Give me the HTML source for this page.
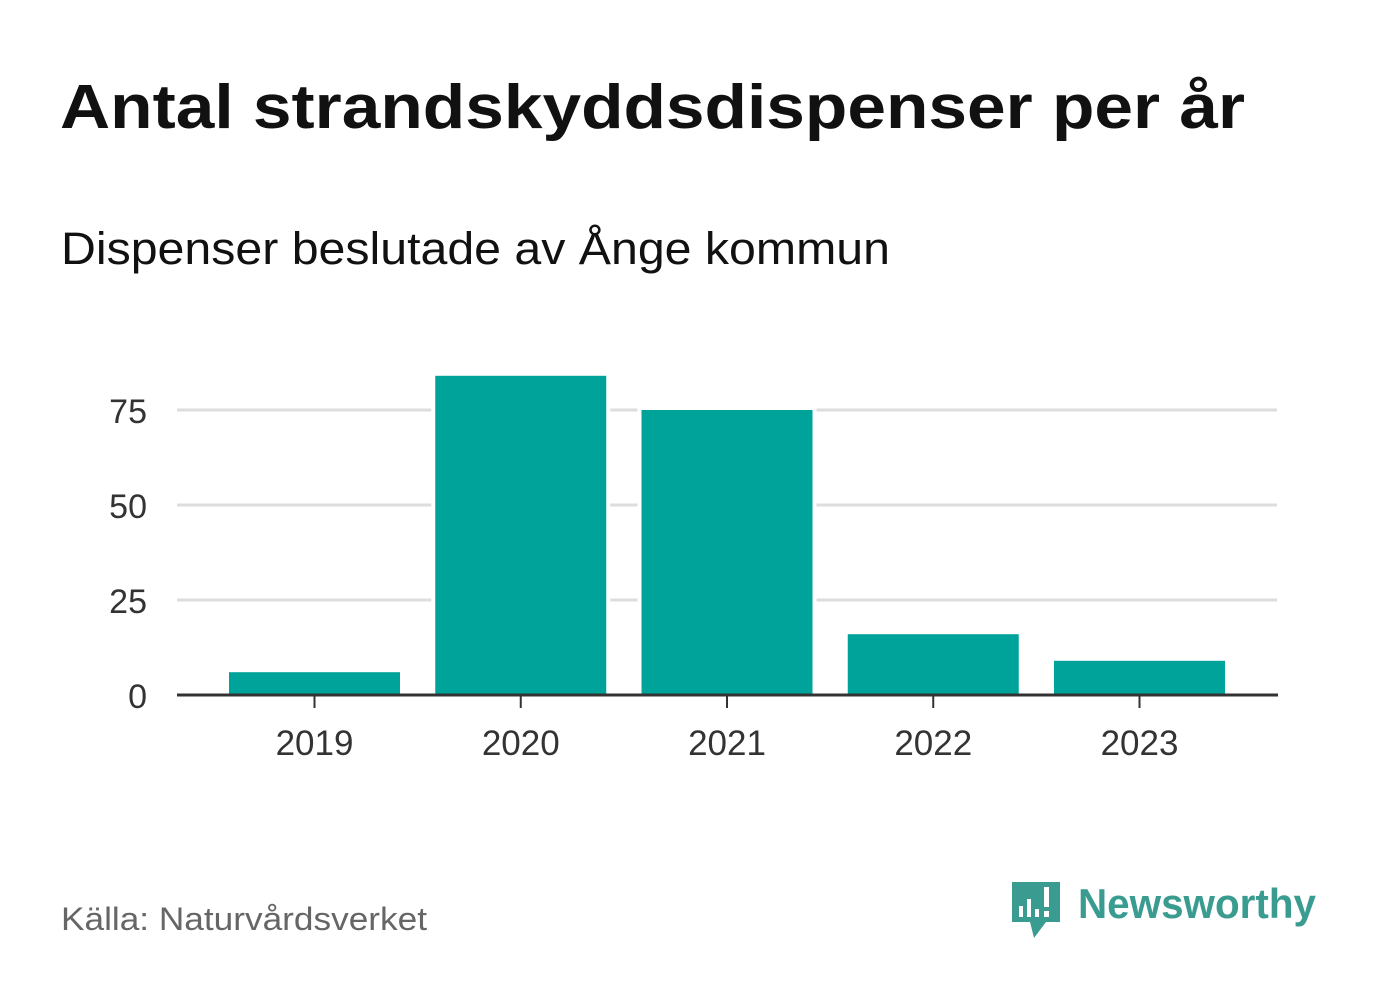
<!DOCTYPE html>
<html><head><meta charset="utf-8"><style>
body{margin:0;background:#fff;width:1382px;height:999px;overflow:hidden;font-family:"Liberation Sans","DejaVu Sans",sans-serif}
</style></head><body>
<svg width="1382" height="999">
<text x="60" y="128" font-size="62" font-weight="bold" fill="#111" textLength="1185" lengthAdjust="spacingAndGlyphs">Antal strandskyddsdispenser per år</text>
<text x="61" y="264" font-size="45" fill="#111" textLength="829" lengthAdjust="spacingAndGlyphs">Dispenser beslutade av Ånge kommun</text>
<g id="grid"></g><g id="bars"></g><g id="axis"></g>
<text x="61" y="930" font-size="32" fill="#666" textLength="366" lengthAdjust="spacingAndGlyphs">Källa: Naturvårdsverket</text>
<g>
<path d="M1012 882h48v40h-14l-12 16-4-16h-18z" fill="#3a9c90"/>
<rect x="1019" y="906" width="4" height="11" fill="#fff"/><rect x="1027" y="899" width="4" height="18" fill="#fff"/><rect x="1035" y="909" width="4" height="8" fill="#fff"/><rect x="1044" y="887" width="5" height="20" fill="#fff"/><rect x="1044" y="911" width="5" height="6" fill="#fff"/>
<text x="1078" y="918" font-size="42" font-weight="bold" fill="#3a9c90" textLength="238" lengthAdjust="spacingAndGlyphs">Newsworthy</text>
</g>
</svg>
<script>
const categories=["2019","2020","2021","2022","2023"];
const values=[6,84,75,16,9];
const yTicks=[0,25,50,75];
const ns="http://www.w3.org/2000/svg";
const y=v=>695-v*3.8;
const xc=i=>314.5+i*206.25;
function mk(t,a,p){const e=document.createElementNS(ns,t);for(const k in a)e.setAttribute(k,a[k]);p.appendChild(e);return e;}
const g=document.getElementById('grid'),b=document.getElementById('bars'),ax=document.getElementById('axis');
yTicks.forEach(v=>{if(v>0){const l=mk('line',{x1:177,x2:1277,y1:y(v),y2:y(v),stroke:'#ddd','stroke-width':3},g);

}
const t=mk('text',{x:147,y:y(v)+13,'font-size':34,fill:'#333','text-anchor':'end'},ax);t.textContent=v;

});
values.forEach((v,i)=>{mk('rect',{x:xc(i)-85.5-4,y:y(v)-4,width:179,height:695-y(v)+4,fill:'#fff'},b);
const r=mk('rect',{x:xc(i)-85.5,y:y(v),width:171,height:695-y(v),fill:'#00a399'},b);


mk('line',{x1:xc(i),x2:xc(i),y1:695,y2:708,stroke:'#333','stroke-width':2},ax);
const t=mk('text',{x:xc(i),y:755,'font-size':35,fill:'#333','text-anchor':'middle'},ax);t.textContent=categories[i];

});
const base=mk('line',{x1:177,x2:1278,y1:695,y2:695,stroke:'#333','stroke-width':3},ax);


</script>
</body></html>
